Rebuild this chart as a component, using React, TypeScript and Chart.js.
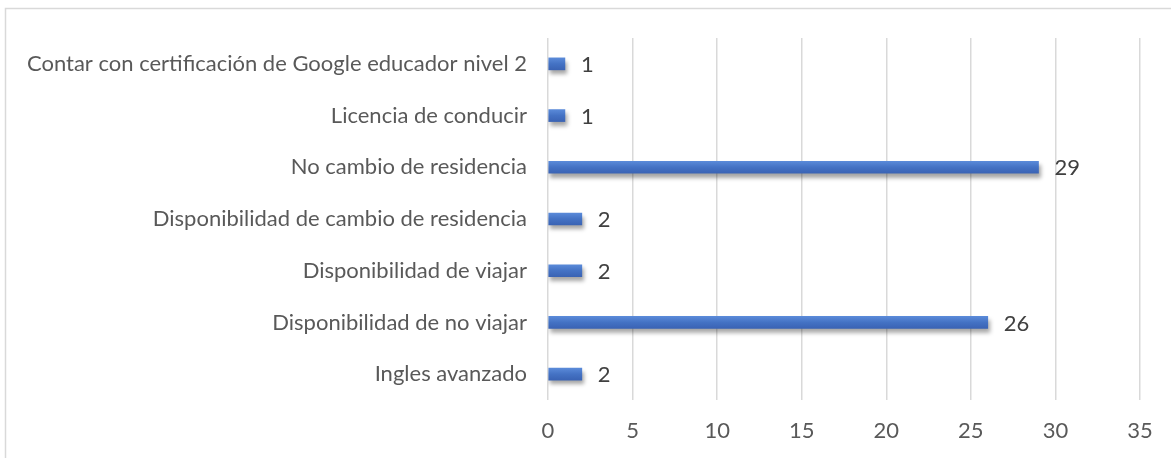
import React, { useEffect, useRef } from "react";
import { Chart, registerables } from "chart.js";

Chart.register(...registerables);

const categories = [
  "Contar con certificación de Google educador nivel 2",
  "Licencia de conducir",
  "No cambio de residencia",
  "Disponibilidad de cambio de residencia",
  "Disponibilidad de viajar",
  "Disponibilidad de no viajar",
  "Ingles avanzado",
];
const values = [1, 1, 29, 2, 2, 26, 2];
const xMin = 0;
const xMax = 35;
const xStep = 5;

const FONT = "Lato, 'Open Sans', sans-serif";
const TEXT = "#595959";
const SIZE = 22;

const frame = {
  id: "frame",
  beforeDraw(chart: any) {
    const ctx = chart.ctx;
    ctx.save();
    ctx.strokeStyle = "#d9d9d9";
    ctx.lineWidth = 1.5;
    ctx.strokeRect(5.5, 8.5, chart.width + 20, chart.height + 20);
    ctx.restore();
  },
};

const shadow = {
  id: "barShadow",
  beforeDatasetsDraw(chart: any) {
    const ctx = chart.ctx;
    ctx.save();
    ctx.shadowColor = "rgba(0,0,0,0.35)";
    ctx.shadowBlur = 4;
    ctx.shadowOffsetX = 2;
    ctx.shadowOffsetY = 4;
  },
  afterDatasetsDraw(chart: any) {
    chart.ctx.restore();
  },
};

const labels = {
  id: "valueLabels",
  afterDatasetsDraw(chart: any) {
    const ctx = chart.ctx;
    const meta = chart.getDatasetMeta(0);
    ctx.save();
    ctx.fillStyle = "#404040";
    ctx.font = `${SIZE}px ${FONT}`;
    ctx.textAlign = "left";
    ctx.textBaseline = "middle";
    meta.data.forEach((bar: any, i: number) => {
      ctx.fillText(String(values[i]), bar.x + 16, bar.y + 1);
    });
    ctx.restore();
  },
};

export default function App() {
  const ref = useRef<HTMLCanvasElement>(null);
  useEffect(() => {
    const chart = new Chart(ref.current as HTMLCanvasElement, {
      type: "bar",
      data: {
        labels: categories,
        datasets: [
          {
            data: values,
            barThickness: 12,
            backgroundColor: (c: any) => {
              const ch = c.chart;
              const y = ch.scales?.y;
              if (!y || c.dataIndex === undefined) return "#4472c4";
              const cy = y.getPixelForValue(c.dataIndex);
              if (!Number.isFinite(cy)) return "#4472c4";
              const g = ch.ctx.createLinearGradient(0, cy - 6, 0, cy + 6);
              g.addColorStop(0, "#5a8ad9");
              g.addColorStop(0.5, "#4472c4");
              g.addColorStop(1, "#3a63b4");
              return g;
            },
            borderWidth: 0,
          },
        ],
      },
      options: {
        indexAxis: "y",
        animation: false,
        responsive: false,
        maintainAspectRatio: false,
        layout: { padding: { top: 38, right: 31, left: 0, bottom: 0 } },
        plugins: { legend: { display: false }, tooltip: { enabled: false } },
        scales: {
          x: {
            min: xMin,
            max: xMax,
            ticks: { stepSize: xStep, color: TEXT, font: { family: FONT, size: SIZE }, padding: 18 },
            grid: { color: "#d9d9d9", lineWidth: 1.5, drawTicks: false },
            border: { display: false },
            afterFit(s: any) {
              s.height = 58;
            },
          },
          y: {
            ticks: { color: TEXT, font: { family: FONT, size: SIZE }, padding: 21 },
            grid: { display: false, drawTicks: false },
            border: { display: false },
            afterFit(s: any) {
              s.width = 548;
            },
          },
        },
      },
      plugins: [frame, shadow, labels],
    } as any);
    return () => chart.destroy();
  }, []);
  return (
    <div style={{ position: "fixed", left: 0, top: 0, width: 1171, height: 458, background: "#fff" }}>
      <canvas ref={ref} width={1171} height={458} />
    </div>
  );
}
